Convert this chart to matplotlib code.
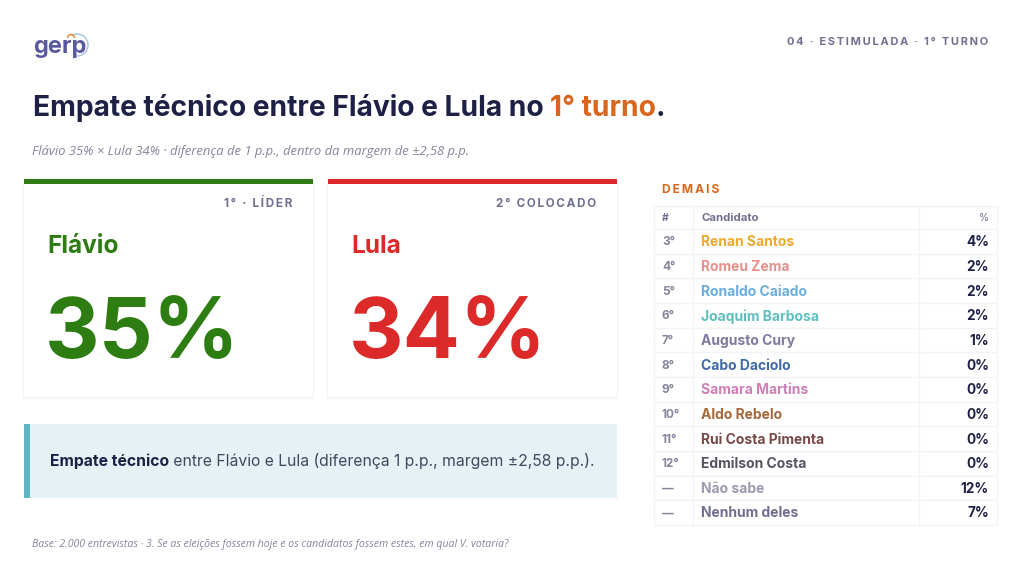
import matplotlib
matplotlib.use('Agg')
import matplotlib.pyplot as plt
from matplotlib.patches import Rectangle, Arc

plt.rcParams['font.family'] = ['Inter', 'DejaVu Sans']

# data
positions = ['3°', '4°', '5°', '6°', '7°', '8°', '9°', '10°', '11°', '12°', '—', '—']
candidates = ['Renan Santos', 'Romeu Zema', 'Ronaldo Caiado', 'Joaquim Barbosa', 'Augusto Cury',
              'Cabo Daciolo', 'Samara Martins', 'Aldo Rebelo', 'Rui Costa Pimenta', 'Edmilson Costa',
              'Não sabe', 'Nenhum deles']
shares = [4, 2, 2, 2, 1, 0, 0, 0, 0, 0, 12, 7]
name_colors = ['#f0a92b', '#e88f8a', '#6aaedf', '#5fbfbd', '#7f7a9e', '#3f6aa5',
               '#cf7fb5', '#a8683c', '#7a4a48', '#55555f', '#9a9ab0', '#6f6f8f']
leaders = ['Flávio', 'Lula']
leader_shares = [35, 34]
leader_tags = ['1° · LÍDER', '2° COLOCADO']
leader_colors = ['#2e7d12', '#dc2a2a']

NAVY = '#1e2145'
GREY = '#6f6f8f'
ORANGE = '#d9661f'
LINE = '#f3f4f8'

fig = plt.figure(figsize=(10.24, 5.76), dpi=100)
ax = fig.add_axes([0, 0, 1, 1])
ax.set_xlim(0, 1024)
ax.set_ylim(576, 0)
ax.axis('off')


def spaced(s, n=1):
    return ('\u200a' * n).join(s)


def runs(x, y, parts, size):
    # draw pieces of text one after another on the same baseline
    r = fig.canvas.get_renderer()
    for s, color, weight in parts:
        t = ax.text(x, y, s, color=color, fontweight=weight, fontsize=size, va='baseline')
        x = t.get_window_extent(r).x1


# header
ax.text(33, 53, 'gerp', color='#5b5a9e', fontsize=17, fontweight='bold', va='baseline')
ax.add_patch(Arc((77, 45), 22, 22, theta1=-120, theta2=90, color='#a9c9e8', lw=1.1))
ax.add_patch(Arc((71, 38), 7, 7, theta1=180, theta2=360, color='#e08a3c', lw=1.1))
ax.text(988, 42, spaced('04 · ESTIMULADA · 1° TURNO', 2), color=GREY, fontsize=7.9, fontweight='bold',
        ha='right', va='center')

runs(33, 116, [('Empate técnico entre Flávio e Lula no ', NAVY, 'bold'),
               ('1° turno', ORANGE, 'bold'), ('.', NAVY, 'bold')], 20.3)
ax.text(32, 151, 'Flávio 35% × Lula 34% · diferença de 1 p.p., dentro da margem de ±2,58 p.p.',
        color='#85859c', fontsize=9.4, style='italic', family=['Open Sans', 'DejaVu Sans'], va='center')

# cards
card_left = [24, 328]
for i in range(2):
    x0 = card_left[i]
    for grow, col in [(2.5, '#fbfbfc'), (1, '#f5f5f7')]:
        ax.add_patch(Rectangle((x0 - grow, 184), 288.5 + 2 * grow, 213 + grow, fc=col, ec='none'))
    ax.add_patch(Rectangle((x0, 184), 288.5, 213, fc='white', ec='none'))
    ax.add_patch(Rectangle((x0, 179), 288.5, 5, fc=leader_colors[i], ec='none'))
    ax.text(x0 + 268, 204, spaced(leader_tags[i], 2), color=GREY, fontsize=8.4, fontweight='bold',
            ha='right', va='center')
    ax.text(x0 + 23, 253, leaders[i], color=leader_colors[i], fontsize=17.6, fontweight='bold', va='baseline')
    ax.text(x0 + 21, 358, f'{leader_shares[i]}%', color=leader_colors[i], fontsize=61, fontweight='bold',
            va='baseline')

# callout
ax.add_patch(Rectangle((24, 424), 593, 74, fc='#e5f1f5', ec='none'))
ax.add_patch(Rectangle((24, 424), 6, 74, fc='#5fb6c2', ec='none'))
runs(50, 466, [('Empate técnico', NAVY, 'bold'),
               (' entre Flávio e Lula (diferença 1 p.p., margem ±2,58 p.p.).', '#44465f', 'normal')], 11.3)

# table
tx0, tx1 = 654, 997
col1, col2 = 693, 919
head_top, head_bot = 206, 229
row_h = 24.65
n = len(candidates)
tbot = head_bot + n * row_h
ax.text(662, 190, spaced('DEMAIS', 2), color=ORANGE, fontsize=8.7, fontweight='bold', va='center')
for yy in [head_top, head_bot] + [head_bot + (i + 1) * row_h for i in range(n)]:
    ax.plot([tx0, tx1], [yy, yy], color=LINE, lw=1)
for xx in [tx0, col1, col2, tx1]:
    ax.plot([xx, xx], [head_top, tbot], color=LINE, lw=1)
ax.text(662, 218, '#', color=GREY, fontsize=7.5, fontweight='bold', va='center')
ax.text(701, 218, 'Candidato', color=GREY, fontsize=8.2, fontweight='bold', va='center')
ax.text(989, 218, '%', color=GREY, fontsize=7.5, ha='right', va='center')
for i in range(n):
    y = head_bot + (i + 0.5) * row_h + 1
    ax.text(662, y, positions[i], color='#85859c', fontsize=8.5, fontweight='bold', va='center')
    ax.text(701, y, candidates[i], color=name_colors[i], fontsize=10, fontweight='bold', va='center')
    ax.text(989, y, f'{shares[i]}%', color=NAVY, fontsize=9.8, fontweight='bold', ha='right', va='center')

ax.text(32, 545, 'Base: 2.000 entrevistas · 3. Se as eleições fossem hoje e os candidatos fossem estes, em qual V. votaria?',
        color='#85859c', fontsize=7.6, style='italic', family=['Open Sans', 'DejaVu Sans'], va='center')

fig.savefig('out.png', dpi=100)
